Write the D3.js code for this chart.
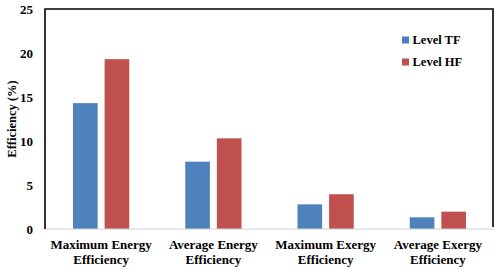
<!DOCTYPE html>
<html>
<head>
<meta charset="utf-8">
<script src="https://cdn.jsdelivr.net/npm/d3@7"></script>
<style>
  body { margin: 0; background: #fff; }
</style>
</head>
<body>
<script>
// Datos del gráfico
var categories = [["Maximum Energy", "Efficiency"], ["Average Energy", "Efficiency"],
                  ["Maximum Exergy", "Efficiency"], ["Average Exergy", "Efficiency"]];
var seriesNames = ["Level TF", "Level HF"];
var levelTF = [14.3, 7.65, 2.8, 1.33];
var levelHF = [19.3, 10.3, 3.95, 1.97];
var yTicks = [0, 5, 10, 15, 20, 25];
var colors = ["#4F81BD", "#C0504D"];

var W = 498, H = 270;
var margin = {top: 9, right: 4, bottom: 41, left: 45},
    width = W - margin.left - margin.right,
    height = H - margin.top - margin.bottom;

var svg = d3.select("body").append("svg")
    .attr("width", W).attr("height", H);

var g = svg.append("g")
    .attr("transform", "translate(" + margin.left + "," + margin.top + ")");

// Escalas
var x0 = d3.scaleBand().domain(d3.range(categories.length)).range([0, width]).paddingInner(0).paddingOuter(0);
var x1 = d3.scaleBand().domain([0, 1]).range([28, x0.bandwidth() - 28]).paddingInner(0.22);
var y = d3.scaleLinear().domain([0, 25]).range([height, 0]);

// Barras
var series = [levelTF, levelHF];
series.forEach(function(vals, s) {
  g.selectAll(".bar" + s).data(vals).enter().append("rect")
    .attr("x", function(d, i) { return x0(i) + x1(s); })
    .attr("y", function(d) { return y(d); })
    .attr("width", x1.bandwidth())
    .attr("height", function(d) { return height - y(d); })
    .attr("fill", colors[s]);
});

// Eje Y
var yAxis = d3.axisLeft(y).tickValues(yTicks).tickSize(0).tickPadding(12);
var ya = g.append("g").call(yAxis);
ya.select(".domain").remove();
ya.selectAll("text").attr("fill", "#000").attr("font-size", 13);

// Marco
g.append("line").attr("x1", 0).attr("x2", width).attr("y1", height).attr("y2", height)
  .attr("stroke", "#d0d0d0").attr("stroke-width", 1);
g.append("path")
  .attr("d", "M0," + height + "V0H" + (width - 1) + "V" + (height - 2))
  .attr("fill", "none").attr("stroke", "#000").attr("stroke-width", 1.6);

// Etiquetas X
var xl = g.append("g").attr("transform", "translate(0," + height + ")");
categories.forEach(function(lines, i) {
  var t = xl.append("text")
    .attr("text-anchor", "middle")
    .attr("font-size", 13)
    .attr("x", x0(i) + x0.bandwidth() / 2);
  lines.forEach(function(l, k) {
    t.append("tspan").attr("x", x0(i) + x0.bandwidth() / 2).attr("y", 19.5 + k * 15.5).text(l);
  });
});

// Título del eje Y
svg.append("text")
  .attr("transform", "translate(16,119) rotate(-90)")
  .attr("text-anchor", "middle")
  .attr("font-size", 12.5)
  .text("Efficiency (%)");

// Leyenda
var legend = svg.append("g").attr("transform", "translate(402,0)");
seriesNames.forEach(function(n, i) {
  legend.append("rect").attr("x", 0).attr("y", 36.5 + i * 22).attr("width", 7).attr("height", 7).attr("fill", colors[i]);
  legend.append("text").attr("x", 10.5).attr("y", 43.5 + i * 22).attr("font-size", 12.5).text(n);
});

// Fuente en cada texto
svg.selectAll("text")
  .attr("font-family", "Liberation Serif")
  .attr("font-weight", "bold")
  .style("font-family", "'Liberation Serif'", "important")
  .style("font-weight", "bold");
</script>
</body>
</html>
